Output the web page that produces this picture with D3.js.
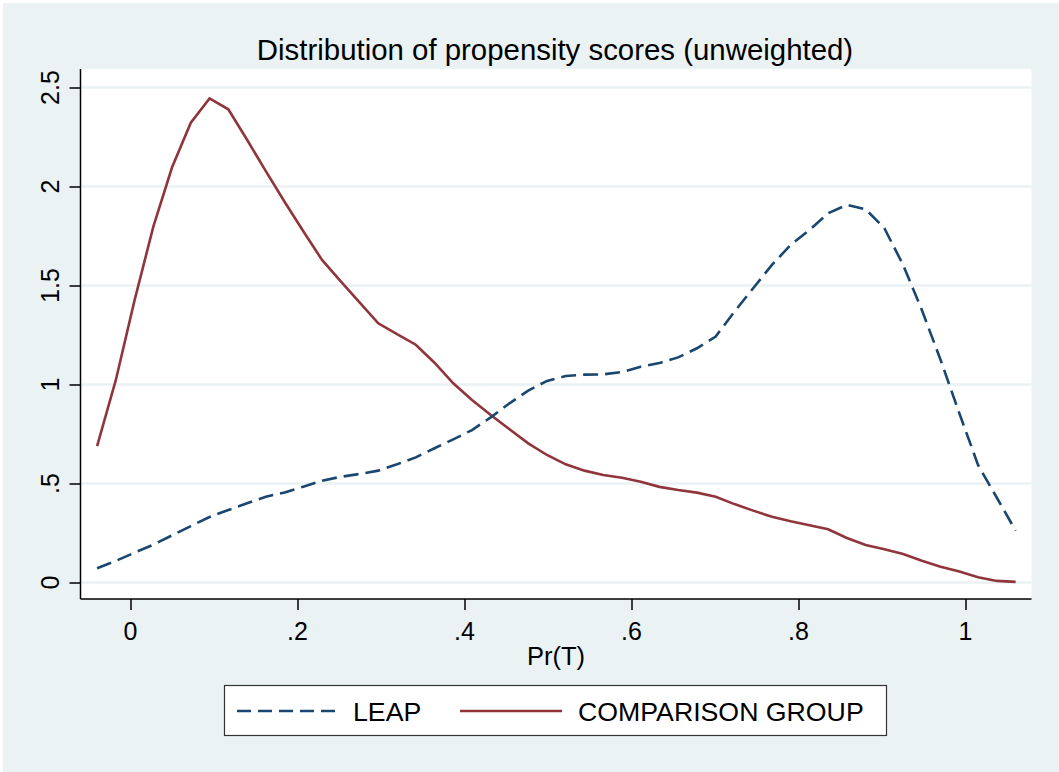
<!DOCTYPE html>
<html>
<head>
<meta charset="utf-8">
<script src="https://cdn.jsdelivr.net/npm/d3@7"></script>
<style>
  body { margin: 0; background: #fff; }
  svg text { font-family: "Liberation Sans", Arial, sans-serif; fill: #000; }
</style>
</head>
<body>
<div id="chart"></div>
<script>
// evaluation grid: 50 points from -.04 to 1.06
var xStart = -0.04, xStep = 1.1 / 49;
var leap = [0.072, 0.109, 0.151, 0.191, 0.238, 0.285, 0.331, 0.366, 0.400, 0.433,
            0.455, 0.484, 0.514, 0.534, 0.548, 0.565, 0.597, 0.632, 0.678, 0.723,
            0.770, 0.834, 0.905, 0.969, 1.018, 1.043, 1.050, 1.051, 1.063, 1.090,
            1.109, 1.137, 1.183, 1.242, 1.368, 1.486, 1.604, 1.705, 1.780, 1.865,
            1.907, 1.885, 1.789, 1.604, 1.376, 1.124, 0.854, 0.593, 0.428, 0.262];
var comparison = [0.689, 1.023, 1.426, 1.797, 2.097, 2.322, 2.445, 2.390, 2.236, 2.078,
                  1.923, 1.774, 1.629, 1.521, 1.415, 1.309, 1.255, 1.201, 1.110, 1.006,
                  0.922, 0.846, 0.774, 0.703, 0.644, 0.597, 0.565, 0.543, 0.529, 0.509,
                  0.483, 0.467, 0.454, 0.433, 0.396, 0.363, 0.332, 0.309, 0.289, 0.269,
                  0.225, 0.189, 0.168, 0.144, 0.110, 0.080, 0.055, 0.026, 0.008, 0.003];
var xTicks = [0, 0.2, 0.4, 0.6, 0.8, 1];
var xTickLabels = ["0", ".2", ".4", ".6", ".8", "1"];
var yTicks = [0, 0.5, 1, 1.5, 2, 2.5];
var yTickLabels = ["0", ".5", "1", "1.5", "2", "2.5"];
var seriesNames = ["LEAP", "COMPARISON GROUP"];

var width = 1059, height = 772;
var plot = {left: 80.5, right: 1031.5, top: 69, bottom: 599};
var blue = "#1a476f", red = "#90353b", bg = "#eaf2f3";

var svg = d3.select("#chart").append("svg")
    .attr("width", width)
    .attr("height", height);

svg.append("rect")
    .attr("x", 3).attr("y", 3)
    .attr("width", width - 3).attr("height", height - 3)
    .style("fill", bg);

svg.append("rect")
    .attr("x", plot.left).attr("y", plot.top)
    .attr("width", plot.right - plot.left)
    .attr("height", plot.bottom - plot.top)
    .style("fill", "#fff");

var x = d3.scaleLinear().domain([0, 1]).range([130.5, 965.5]);
var y = d3.scaleLinear().domain([0, 2.5]).range([582.5, 87.5]);

// gridlines
svg.selectAll(".grid")
    .data(yTicks)
    .enter()
    .append("line")
    .attr("class", "grid")
    .attr("x1", plot.left).attr("x2", plot.right)
    .attr("y1", function(d){ return y(d); })
    .attr("y2", function(d){ return y(d); })
    .style("stroke", bg)
    .style("stroke-width", 2.5);

var line = d3.line()
    .x(function(d, i){ return x(xStart + i * xStep); })
    .y(function(d){ return y(d); });

svg.append("path")
    .datum(comparison)
    .attr("d", line)
    .style("fill", "none")
    .style("stroke", red)
    .style("stroke-width", 2.6);

svg.append("path")
    .datum(leap)
    .attr("d", line)
    .style("fill", "none")
    .style("stroke", blue)
    .style("stroke-width", 2.6)
    .style("stroke-dasharray", "15,7");

// axes
var yAxis = svg.append("g")
    .attr("transform", "translate(" + plot.left + ",0)")
    .call(d3.axisLeft(y).tickValues(yTicks).tickSize(11).tickFormat(""));
yAxis.select(".domain").attr("d", "M0," + plot.top + "V" + plot.bottom);

var xAxis = svg.append("g")
    .attr("transform", "translate(0," + plot.bottom + ")")
    .call(d3.axisBottom(x).tickValues(xTicks).tickSize(11).tickFormat(""));
xAxis.select(".domain").attr("d", "M" + plot.left + ",0H" + plot.right);

svg.selectAll(".domain, .tick line")
    .style("stroke", "#000")
    .style("stroke-width", 1.5);

svg.selectAll(".ylab")
    .data(yTicks)
    .enter()
    .append("text")
    .attr("class", "ylab")
    .attr("transform", function(d){ return "translate(59," + y(d) + ") rotate(-90)"; })
    .attr("text-anchor", "middle")
    .style("font-size", "25px")
    .text(function(d, i){ return yTickLabels[i]; });

svg.selectAll(".xlab")
    .data(xTicks)
    .enter()
    .append("text")
    .attr("class", "xlab")
    .attr("x", function(d){ return x(d); })
    .attr("y", 639.5)
    .attr("text-anchor", "middle")
    .style("font-size", "25px")
    .text(function(d, i){ return xTickLabels[i]; });

svg.append("text")
    .attr("x", 556).attr("y", 665)
    .attr("text-anchor", "middle")
    .style("font-size", "25.5px")
    .text("Pr(T)");

svg.append("text")
    .attr("x", 555).attr("y", 59.5)
    .attr("text-anchor", "middle")
    .style("font-size", "29.4px")
    .text("Distribution of propensity scores (unweighted)");

// legend
var legend = svg.append("g");
legend.append("rect")
    .attr("x", 224.5).attr("y", 685.5)
    .attr("width", 662).attr("height", 50)
    .style("fill", "#fff")
    .style("stroke", "#333")
    .style("stroke-width", 1.2);

legend.append("line")
    .attr("x1", 237).attr("x2", 337)
    .attr("y1", 711).attr("y2", 711)
    .style("stroke", blue)
    .style("stroke-width", 2.6)
    .style("stroke-dasharray", "14,7");
legend.append("text")
    .attr("x", 353).attr("y", 720.5)
    .style("font-size", "26.7px")
    .text(seriesNames[0]);

legend.append("line")
    .attr("x1", 460).attr("x2", 562)
    .attr("y1", 711).attr("y2", 711)
    .style("stroke", red)
    .style("stroke-width", 2.6);
legend.append("text")
    .attr("x", 578).attr("y", 720.5)
    .style("font-size", "26.7px")
    .text(seriesNames[1]);
</script>
</body>
</html>
